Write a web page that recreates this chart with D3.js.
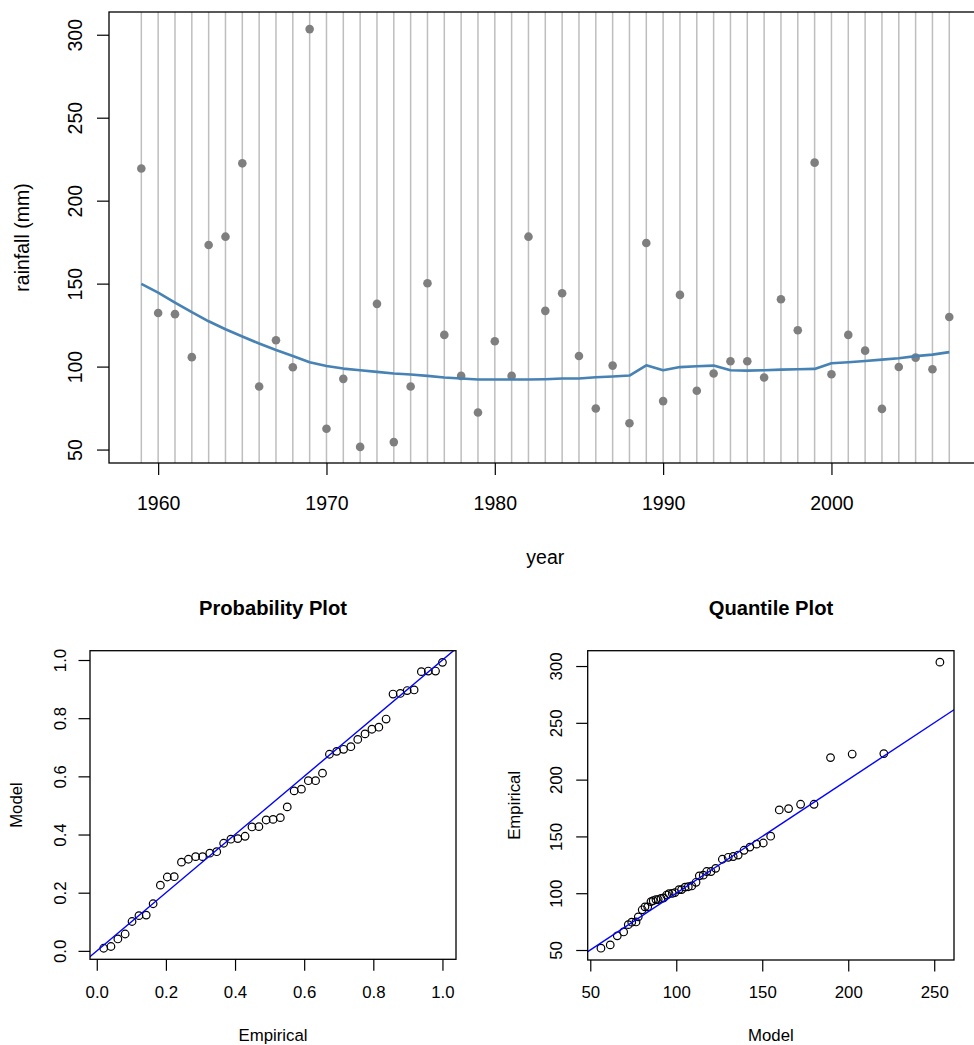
<!DOCTYPE html>
<html><head><meta charset="utf-8">
<script src="https://cdn.jsdelivr.net/npm/d3@7"></script>
<style>body{margin:0;background:#fff}svg{display:block}text{font-family:"Liberation Sans",Arial,Helvetica,sans-serif;fill:#000}</style>
</head><body><svg id="c" width="974" height="1045"></svg>
<script>
// ---------------- data ----------------
const years = [1959,1960,1961,1962,1963,1964,1965,1966,1967,1968,
  1969,1970,1971,1972,1973,1974,1975,1976,1977,1978,
  1979,1980,1981,1982,1983,1984,1985,1986,1987,1988,
  1989,1990,1991,1992,1993,1994,1995,1996,1997,1998,
  1999,2000,2001,2002,2003,2004,2005,2006,2007];
const rainfall = [219.4,132.3,131.6,105.7,173.3,178.3,222.5,88.0,115.9,99.6,
  303.4,62.5,92.6,51.6,137.8,54.5,88.0,150.2,119.1,94.4,
  72.3,115.3,94.4,178.3,133.6,144.2,106.4,74.7,100.6,65.9,
  174.5,79.2,143.2,85.4,95.8,103.2,103.2,93.4,140.6,121.9,
  222.9,95.4,119.1,109.6,74.5,99.8,105.4,98.4,129.9];
const trend = [149.8,144.6,138.6,132.8,127.3,122.5,118.1,113.9,110.0,106.4,
  102.6,100.4,98.8,97.8,96.8,95.8,95.2,94.4,93.4,92.8,
  92.2,92.2,92.2,92.2,92.4,92.8,92.8,93.6,94.0,94.6,
  100.8,97.8,99.7,100.2,100.6,97.8,97.6,97.8,98.2,98.4,
  98.6,102.0,102.6,103.4,104.2,105.0,106.3,107.2,108.7];

const empiricalProb = [0.020,0.041,0.061,0.082,0.102,0.122,0.143,0.163,0.184,0.204,
  0.224,0.245,0.265,0.286,0.306,0.327,0.347,0.367,0.388,0.408,
  0.429,0.449,0.469,0.490,0.510,0.531,0.551,0.571,0.592,0.612,
  0.633,0.653,0.673,0.694,0.714,0.735,0.755,0.776,0.796,0.816,
  0.837,0.857,0.878,0.898,0.918,0.939,0.959,0.980,1.000];
const modelProb = [0.009,0.015,0.041,0.058,0.101,0.121,0.123,0.162,0.226,0.254,
  0.255,0.305,0.315,0.324,0.324,0.336,0.341,0.370,0.384,0.386,
  0.394,0.426,0.427,0.450,0.452,0.458,0.495,0.550,0.556,0.585,
  0.585,0.611,0.676,0.686,0.693,0.702,0.727,0.746,0.762,0.769,
  0.797,0.883,0.885,0.895,0.897,0.960,0.962,0.962,0.992];

const modelQuant = [56.2,61.6,65.7,69.4,72.1,74.1,76.6,77.9,80.2,81.8,
  83.4,85.3,86.6,88.2,89.5,91.1,92.7,94.4,95.8,97.7,
  99.2,101.6,103.1,105.1,107.0,109.0,111.5,113.4,115.7,117.7,
  120.2,122.9,126.8,130.2,133.1,136.0,139.4,142.8,146.7,150.6,
  154.9,159.9,165.3,172.3,180.1,189.7,202.3,220.7,253.3];
const empiricalQuant = [51.6,54.5,62.5,65.9,72.3,74.5,74.7,79.2,85.4,88.0,
  88.0,92.6,93.4,94.4,94.4,95.4,95.8,98.4,99.6,99.8,
  100.6,103.2,103.2,105.4,105.7,106.4,109.6,115.3,115.9,119.1,
  119.1,121.9,129.9,131.6,132.3,133.6,137.8,140.6,143.2,144.2,
  150.2,173.3,174.5,178.3,178.3,219.4,222.5,222.9,303.4];

const yearTicks = [1960,1970,1980,1990,2000];
const rainTicks = [50,100,150,200,250,300];
const probTicks = [0,0.2,0.4,0.6,0.8,1.0];
const quantXTicks = [50,100,150,200,250];
const quantYTicks = [50,100,150,200,250,300];

// ---------------- drawing ----------------
const svg = d3.select("#c");
const FONT = '"Liberation Sans",Arial,Helvetica,sans-serif';

function panel(opts){
  const {id, x, y, xTicks, yTicks, xFmt, yFmt, fs, tick, xLabY, yLabX, xTitleY, yTitleX, xTitle, yTitle} = opts;
  const [x0,x1] = x.range(), [y1,y0] = y.range();
  const g = svg.append("g");
  svg.append("clipPath").attr("id", id).append("rect")
    .attr("x", x0).attr("y", y0).attr("width", x1-x0).attr("height", y1-y0);
  const plot = g.append("g").attr("clip-path", `url(#${id})`);
  const ax = g.append("g").attr("transform", `translate(0,${y1})`)
    .call(d3.axisBottom(x).tickValues(xTicks).tickSize(tick).tickSizeOuter(0).tickFormat(xFmt));
  ax.select(".domain").remove();
  ax.selectAll("line").attr("stroke","#000").attr("stroke-width",1.2);
  ax.selectAll("text").attr("y", xLabY - y1).attr("dy", null)
    .attr("dominant-baseline","central").style("font-size", fs+"px").style("font-family", FONT).attr("fill","#000");
  const ay = g.append("g").attr("transform", `translate(${x0},0)`)
    .call(d3.axisLeft(y).tickValues(yTicks).tickSize(tick).tickSizeOuter(0).tickFormat(yFmt));
  ay.select(".domain").remove();
  ay.selectAll("line").attr("stroke","#000").attr("stroke-width",1.2);
  ay.selectAll("text").attr("x", null).attr("dy", null)
    .attr("transform", `translate(${yLabX - x0},0) rotate(-90)`)
    .attr("text-anchor","middle").attr("dominant-baseline","central")
    .style("font-size", fs+"px").style("font-family", FONT).attr("fill","#000");
  g.append("text").attr("x",(x0+x1)/2).attr("y",xTitleY).attr("text-anchor","middle")
    .attr("dominant-baseline","central").style("font-size", fs+"px").text(xTitle);
  g.append("text").attr("transform",`translate(${yTitleX},${(y0+y1)/2}) rotate(-90)`)
    .attr("text-anchor","middle").attr("dominant-baseline","central").style("font-size", fs+"px").text(yTitle);
  return {g, plot, box: () => g.append("rect").attr("x",x0).attr("y",y0).attr("width",x1-x0).attr("height",y1-y0)
      .attr("fill","none").attr("stroke","#000").attr("stroke-width",1.3)};
}

// ---- top: rainfall by year ----
const xT = d3.scaleLinear().domain([1957.08, 2008.92]).range([109, 981.6]);
const yT = d3.scaleLinear().domain([41.9, 313.7]).range([463, 12]);
const topPanel = panel({id:"clipTop", x:xT, y:yT, xTicks:yearTicks, yTicks:rainTicks,
  xFmt:d3.format("d"), yFmt:d3.format("d"), fs:19.5, tick:12,
  xLabY:503, yLabX:75, xTitleY:557, yTitleX:22, xTitle:"year", yTitle:"rainfall (mm)"});
topPanel.plot.selectAll("line.v").data(years).join("line").attr("class","v")
  .attr("x1", d=>xT(d)).attr("x2", d=>xT(d)).attr("y1", yT.range()[1]).attr("y2", yT.range()[0])
  .attr("stroke","#bebebe").attr("stroke-width",1.5);
topPanel.plot.selectAll("circle").data(years).join("circle")
  .attr("cx",(d)=>xT(d)).attr("cy",(d,i)=>yT(rainfall[i])).attr("r",4.3).attr("fill","#7f7f7f");
topPanel.plot.append("path").datum(years)
  .attr("d", d3.line().x(d=>xT(d)).y((d,i)=>yT(trend[i])))
  .attr("fill","none").attr("stroke","#4682b4").attr("stroke-width",2.6).attr("stroke-linejoin","round");
topPanel.box();

// ---- bottom left: probability plot ----
const xP = d3.scaleLinear().domain([-0.0196, 1.0392]).range([90, 456]);
const yP = d3.scaleLinear().domain([-0.029, 1.032]).range([959.3, 650.7]);
const pp = panel({id:"clipP", x:xP, y:yP, xTicks:probTicks, yTicks:probTicks,
  xFmt:d3.format(".1f"), yFmt:d3.format(".1f"), fs:16.8, tick:11.5,
  xLabY:992.7, yLabX:60, xTitleY:1035, yTitleX:16, xTitle:"Empirical", yTitle:"Model"});
pp.plot.selectAll("circle").data(empiricalProb).join("circle")
  .attr("cx",d=>xP(d)).attr("cy",(d,i)=>yP(modelProb[i])).attr("r",3.8)
  .attr("fill","none").attr("stroke","#000").attr("stroke-width",1.2);
pp.plot.append("line").attr("x1",xP(-0.2)).attr("y1",yP(-0.2)).attr("x2",xP(1.2)).attr("y2",yP(1.2))
  .attr("stroke","#0000ff").attr("stroke-width",1.4);
pp.box();
svg.append("text").attr("x",273).attr("y",608).attr("text-anchor","middle").attr("dominant-baseline","central")
  .style("font-size","20.2px").style("font-weight","bold").text("Probability Plot");

// ---- bottom right: quantile plot ----
const xQ = d3.scaleLinear().domain([48.5, 261.5]).range([587.7, 954]);
const yQ = d3.scaleLinear().domain([41.2, 313.5]).range([960, 650.7]);
const qp = panel({id:"clipQ", x:xQ, y:yQ, xTicks:quantXTicks, yTicks:quantYTicks,
  xFmt:d3.format("d"), yFmt:d3.format("d"), fs:16.8, tick:11.5,
  xLabY:992.7, yLabX:556.7, xTitleY:1035, yTitleX:514, xTitle:"Model", yTitle:"Empirical"});
qp.plot.selectAll("circle").data(modelQuant).join("circle")
  .attr("cx",d=>xQ(d)).attr("cy",(d,i)=>yQ(empiricalQuant[i])).attr("r",3.8)
  .attr("fill","none").attr("stroke","#000").attr("stroke-width",1.2);
qp.plot.append("line").attr("x1",xQ(0)).attr("y1",yQ(0)).attr("x2",xQ(400)).attr("y2",yQ(400))
  .attr("stroke","#0000ff").attr("stroke-width",1.4);
qp.box();
svg.append("text").attr("x",771).attr("y",608).attr("text-anchor","middle").attr("dominant-baseline","central")
  .style("font-size","20.2px").style("font-weight","bold").text("Quantile Plot");
</script></body></html>
